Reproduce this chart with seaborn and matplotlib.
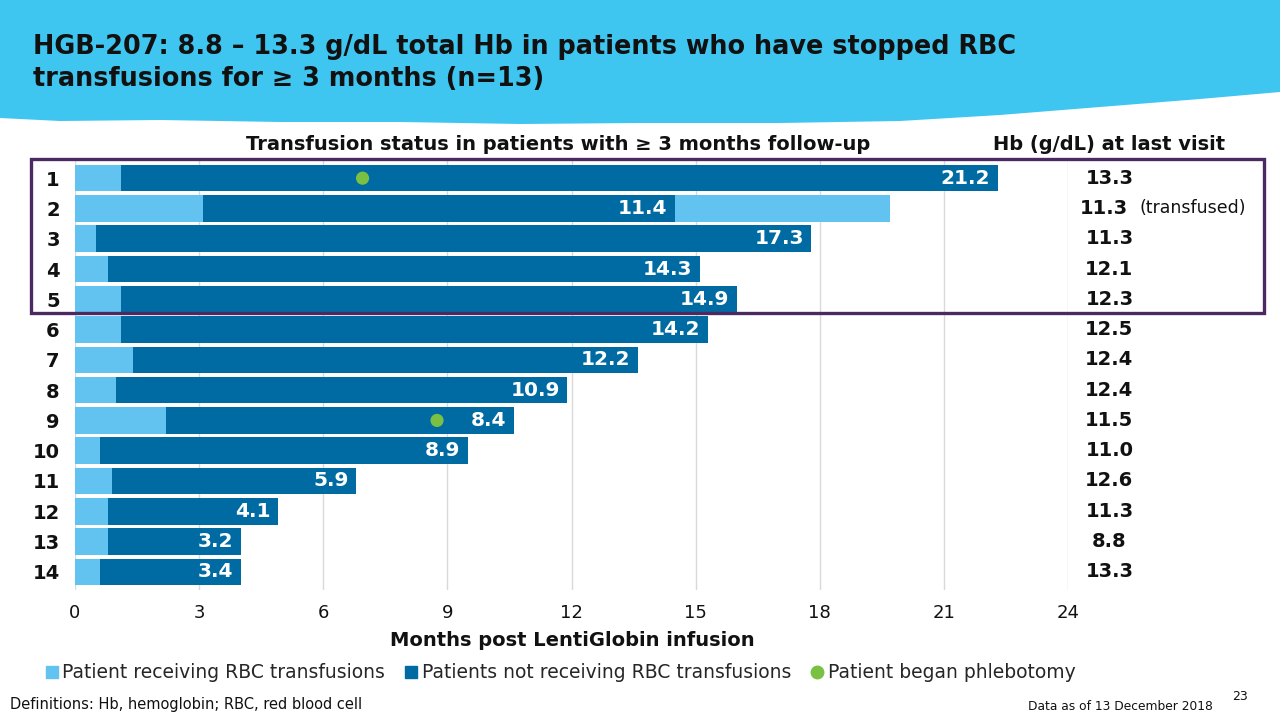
import matplotlib
matplotlib.use("Agg")
import matplotlib.pyplot as plt
from matplotlib.patches import Rectangle, Polygon
from matplotlib.lines import Line2D
import seaborn as sns
import pandas as pd

# ---------------- data ----------------
patients = [str(i) for i in range(1, 15)]
months_transfused_before = [1.1, 3.1, 0.5, 0.8, 1.1, 1.1, 1.4, 1.0, 2.2, 0.6, 0.9, 0.8, 0.8, 0.6]
months_transfusion_free = [21.2, 11.4, 17.3, 14.3, 14.9, 14.2, 12.2, 10.9, 8.4, 8.9, 5.9, 4.1, 3.2, 3.4]
months_transfused_after = [0, 5.2, 0, 0, 0, 0, 0, 0, 0, 0, 0, 0, 0, 0]
hb_last_visit = ["13.3", "11.3", "11.3", "12.1", "12.3", "12.5", "12.4", "12.4",
                 "11.5", "11.0", "12.6", "11.3", "8.8", "13.3"]
hb_note = ["", "(transfused)", "", "", "", "", "", "", "", "", "", "", "", ""]
phlebotomy_patients = ["1", "9"]
phlebotomy_month = [6.95, 8.75]
x_ticks = [0, 3, 6, 9, 12, 15, 18, 21, 24]

title = "HGB-207: 8.8 \u2013 13.3 g/dL total Hb in patients who have stopped RBC\ntransfusions for \u2265 3 months (n=13)"
header_left = "Transfusion status in patients with \u2265 3 months follow-up"
header_right = "Hb (g/dL) at last visit"
x_label = "Months post LentiGlobin infusion"
legend_labels = ["Patient receiving RBC transfusions", "Patients not receiving RBC transfusions",
                 "Patient began phlebotomy"]
footnote = "Definitions: Hb, hemoglobin; RBC, red blood cell"
data_date = "Data as of 13 December 2018"
page_no = "23"

# ---------------- style ----------------
LIGHT = "#63C3F0"
DARK = "#006BA3"
GREEN = "#7AC143"
PURPLE = "#4B2A62"
BANNER = "#3FC6F0"
GRID = "#D9D9D9"
TXT = "#111111"

sns.set_theme(style="white")
plt.rcParams["font.family"] = ["DejaVu Sans"]

W, H = 1280, 720
fig = plt.figure(figsize=(12.8, 7.2), dpi=100)

def fx(px):
    return px / W

def fy(py):
    return 1 - py / H

# banner
banner_px = [(0, 0), (1280, 0), (1280, 92), (1200, 99), (1100, 107), (1000, 115), (900, 121),
             (780, 123), (640, 123), (520, 124), (400, 122), (280, 122), (160, 120),
             (60, 121), (0, 118)]
fig.patches.append(Polygon([(fx(x), fy(y)) for x, y in banner_px], closed=True,
                           transform=fig.transFigure, facecolor=BANNER, edgecolor="none", zorder=0))

fig.text(fx(33), fy(63), title, ha="left", va="center", fontsize=18.4, fontweight="bold",
         color=TXT, linespacing=1.33)

# ---------------- axes ----------------
ax = fig.add_axes([fx(75), fy(590), fx(1068) - fx(75), (590 - 160) / H])

df = pd.DataFrame({
    "patient": patients,
    "light_end": months_transfused_before,
    "dark_end": [a + b for a, b in zip(months_transfused_before, months_transfusion_free)],
})
df["total_end"] = df["dark_end"] + pd.Series(months_transfused_after)

common = dict(data=df, y="patient", orient="h", order=patients, width=0.88,
              saturation=1, errorbar=None, ax=ax, linewidth=0, zorder=2)
sns.barplot(x="total_end", color=LIGHT, **common)
sns.barplot(x="dark_end", color=DARK, **common)
sns.barplot(x="light_end", color=LIGHT, **common)

ph_y = [patients.index(p) for p in phlebotomy_patients]
sns.scatterplot(x=phlebotomy_month, y=ph_y, color=GREEN, s=90, edgecolor="none", ax=ax,
                zorder=4, legend=False)

for i, end in enumerate(df["dark_end"]):
    ax.text(end - 0.18, i, f"{months_transfusion_free[i]:.1f}", ha="right", va="center",
            color="white", fontsize=14.5, fontweight="bold", zorder=5)

for i, v in enumerate(hb_last_visit):
    if hb_note[i]:
        ax.text(24.29, i, v, ha="left", va="center", fontsize=14, fontweight="bold",
                color=TXT, clip_on=False)
        ax.text(25.72, i, hb_note[i], ha="left", va="center", fontsize=12.5,
                color=TXT, clip_on=False)
    else:
        ax.text(25.0, i, v, ha="center", va="center", fontsize=14, fontweight="bold",
                color=TXT, clip_on=False)

ax.set_xlim(0, 24)
ax.set_ylim(13.6, -0.6)
ax.set_xticks(x_ticks)
ax.set_xticklabels([str(t) for t in x_ticks], fontsize=13, color=TXT)
ax.set_yticks(range(len(patients)))
ax.set_yticklabels(patients, fontsize=14, fontweight="bold", color=TXT)
ax.tick_params(axis="x", length=0, pad=10)
ax.tick_params(axis="y", length=0, pad=11)
ax.set_xlabel("")
ax.set_ylabel("")
ax.grid(axis="x", color=GRID, linewidth=1, zorder=0)
ax.set_axisbelow(True)
for s in ax.spines.values():
    s.set_visible(False)

# headers
fig.text(fx(558), fy(144), header_left, ha="center", va="center", fontsize=14,
         fontweight="bold", color=TXT)
fig.text(fx(1109), fy(144), header_right, ha="center", va="center", fontsize=14,
         fontweight="bold", color=TXT)
fig.text(fx(572), fy(640), x_label, ha="center", va="center", fontsize=14,
         fontweight="bold", color=TXT)

# highlight box around patients 1-5
fig.patches.append(Rectangle((fx(31), fy(313)), fx(1264) - fx(31), (313 - 159) / H,
                             transform=fig.transFigure, fill=False, edgecolor=PURPLE,
                             linewidth=2.4, zorder=10))

# legend
handles = [Line2D([], [], marker="s", linestyle="", markersize=9, color=LIGHT),
           Line2D([], [], marker="s", linestyle="", markersize=9, color=DARK),
           Line2D([], [], marker="o", linestyle="", markersize=9, color=GREEN)]
fig.legend(handles, legend_labels, loc="center", bbox_to_anchor=(fx(560), fy(673)), ncol=3,
           frameon=False, fontsize=13.5, handletextpad=0.15, columnspacing=1.0,
           handlelength=0.8, borderpad=0)

# footer
fig.text(fx(10), fy(705), footnote, ha="left", va="center", fontsize=10.5, color=TXT)
fig.text(fx(1213), fy(706), data_date, ha="right", va="center", fontsize=8.8, color=TXT)
fig.text(fx(1240), fy(696), page_no, ha="center", va="center", fontsize=9, color=TXT)

fig.savefig("out.png", dpi=100)
